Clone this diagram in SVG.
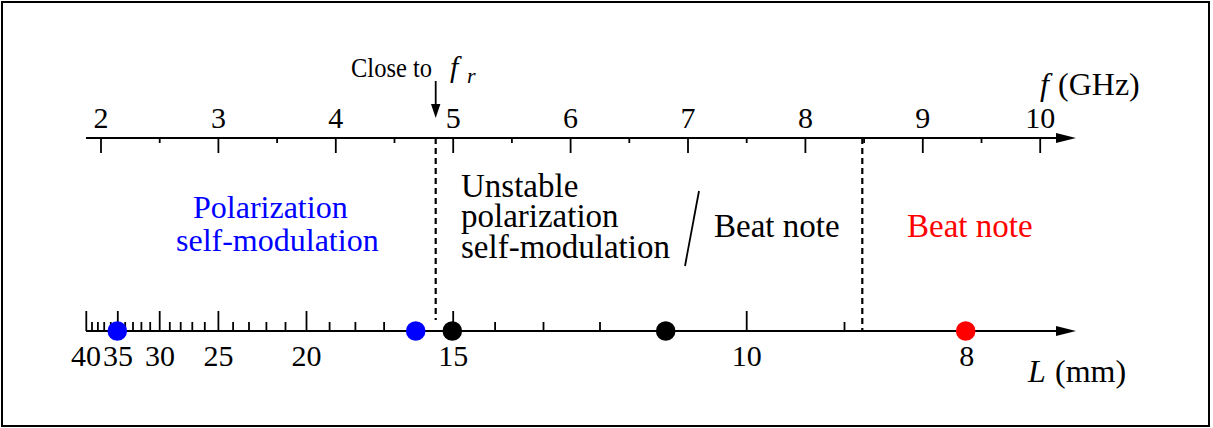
<svg xmlns="http://www.w3.org/2000/svg" width="1213" height="428" viewBox="0 0 1213 428">
<style>
.t{font-family:"Liberation Serif","Times New Roman",serif;fill:#000}
.num{font-size:30px;text-anchor:middle}
.lbl{font-size:33px}
.lbl2{font-size:32px}
.ax{stroke:#000;stroke-width:2;fill:none}
.tk{stroke:#000;stroke-width:1.8}
.dash{stroke:#000;stroke-width:2.2;stroke-dasharray:6 4;fill:none}
</style>
<rect x="0" y="0" width="1213" height="428" fill="#fff"/>
<rect id="border" x="2" y="2" width="1207" height="424" fill="none" stroke="#000" stroke-width="2"/>

<g id="top-axis">
<line class="ax" x1="86" y1="138" x2="1060" y2="138"/>
<polygon points="1076,138 1056,133 1056,143" fill="#000"/>
<g class="tk">
<line x1="101" y1="138" x2="101" y2="153"/>
<line x1="159.7" y1="138" x2="159.7" y2="143"/>
<line x1="218.4" y1="138" x2="218.4" y2="153"/>
<line x1="277.1" y1="138" x2="277.1" y2="143"/>
<line x1="335.8" y1="138" x2="335.8" y2="153"/>
<line x1="394.5" y1="138" x2="394.5" y2="143"/>
<line x1="453.2" y1="138" x2="453.2" y2="153"/>
<line x1="511.9" y1="138" x2="511.9" y2="143"/>
<line x1="570.6" y1="138" x2="570.6" y2="153"/>
<line x1="629.3" y1="138" x2="629.3" y2="143"/>
<line x1="688" y1="138" x2="688" y2="153"/>
<line x1="746.7" y1="138" x2="746.7" y2="143"/>
<line x1="805.4" y1="138" x2="805.4" y2="153"/>
<line x1="864.1" y1="138" x2="864.1" y2="143"/>
<line x1="922.8" y1="138" x2="922.8" y2="153"/>
<line x1="981.5" y1="138" x2="981.5" y2="143"/>
<line x1="1040.2" y1="138" x2="1040.2" y2="153"/>
</g>
<g class="t num">
<text x="101" y="128">2</text>
<text x="218.4" y="128">3</text>
<text x="335.8" y="128">4</text>
<text x="453.2" y="128">5</text>
<text x="570.6" y="128">6</text>
<text x="688" y="128">7</text>
<text x="805.4" y="128">8</text>
<text x="922.8" y="128">9</text>
<text x="1040.2" y="128">10</text>
</g>
<text class="t" font-size="32" y="95"><tspan x="1040" font-style="italic">f</tspan><tspan x="1058">(GHz)</tspan></text>
</g>

<g id="bottom-axis">
<line class="ax" x1="86" y1="331" x2="1060" y2="331"/>
<polygon points="1076,331 1056,326 1056,336" fill="#000"/>
<g class="tk">
<line x1="86.3" y1="331" x2="86.3" y2="311"/>
<line x1="92" y1="331" x2="92" y2="322"/>
<line x1="97.9" y1="331" x2="97.9" y2="322"/>
<line x1="104.2" y1="331" x2="104.2" y2="322"/>
<line x1="110.8" y1="331" x2="110.8" y2="322"/>
<line x1="117.8" y1="331" x2="117.8" y2="311"/>
<line x1="125.2" y1="331" x2="125.2" y2="322"/>
<line x1="133" y1="331" x2="133" y2="322"/>
<line x1="141.4" y1="331" x2="141.4" y2="322"/>
<line x1="150.2" y1="331" x2="150.2" y2="322"/>
<line x1="159.7" y1="331" x2="159.7" y2="311"/>
<line x1="169.8" y1="331" x2="169.8" y2="322"/>
<line x1="180.7" y1="331" x2="180.7" y2="322"/>
<line x1="192.3" y1="331" x2="192.3" y2="322"/>
<line x1="204.8" y1="331" x2="204.8" y2="322"/>
<line x1="218.4" y1="331" x2="218.4" y2="311"/>
<line x1="233.1" y1="331" x2="233.1" y2="322"/>
<line x1="249" y1="331" x2="249" y2="322"/>
<line x1="266.4" y1="331" x2="266.4" y2="322"/>
<line x1="285.5" y1="331" x2="285.5" y2="322"/>
<line x1="306.5" y1="331" x2="306.5" y2="311"/>
<line x1="329.6" y1="331" x2="329.6" y2="322"/>
<line x1="355.4" y1="331" x2="355.4" y2="322"/>
<line x1="384.1" y1="331" x2="384.1" y2="322"/>
<line x1="416.5" y1="331" x2="416.5" y2="322"/>
<line x1="453.2" y1="331" x2="453.2" y2="311"/>
<line x1="495.1" y1="331" x2="495.1" y2="322"/>
<line x1="543.5" y1="331" x2="543.5" y2="322"/>
<line x1="600" y1="331" x2="600" y2="322"/>
<line x1="666.7" y1="331" x2="666.7" y2="322"/>
<line x1="746.7" y1="331" x2="746.7" y2="311"/>
<line x1="844.5" y1="331" x2="844.5" y2="322"/>
<line x1="966.8" y1="331" x2="966.8" y2="322"/>
</g>
<g class="t num">
<text x="86" y="366">40</text>
<text x="118" y="366">35</text>
<text x="160" y="366">30</text>
<text x="218.4" y="366">25</text>
<text x="306.5" y="366">20</text>
<text x="453.2" y="366">15</text>
<text x="746.7" y="366">10</text>
<text x="966.8" y="366">8</text>
</g>
<text class="t" font-size="32" y="382"><tspan x="1028" font-style="italic">L</tspan><tspan x="1055">(mm)</tspan></text>
</g>

<g id="connectors">
<line class="dash" x1="435.7" y1="138" x2="435.7" y2="320"/>
<line class="dash" x1="862.3" y1="138" x2="862.3" y2="331"/>
<line x1="435.7" y1="81" x2="435.7" y2="106" stroke="#000" stroke-width="1.8"/>
<polygon points="431,104 440.4,104 435.7,118" fill="#000"/>
<line x1="699" y1="191" x2="685" y2="266" stroke="#000" stroke-width="1.8"/>
</g>

<g id="close-to-fr">
<text class="t" font-size="28" y="77"><tspan x="351" textLength="81" lengthAdjust="spacingAndGlyphs">Close to</tspan><tspan x="450" font-size="30" font-style="italic">f</tspan><tspan x="467" y="83" font-size="22" font-style="italic">r</tspan></text>
</g>

<g id="region-polarization">
<text class="t lbl2" style="fill:#0000ff" x="193" y="218">Polarization</text>
<text class="t lbl2" style="fill:#0000ff" x="176" y="251">self-modulation</text>
</g>
<g id="region-unstable">
<text class="t lbl" x="461" y="197">Unstable</text>
<text class="t lbl" x="461" y="227">polarization</text>
<text class="t lbl" x="461" y="258">self-modulation</text>
</g>
<g id="region-beat-black">
<text class="t lbl" x="714" y="237">Beat note</text>
</g>
<g id="region-beat-red">
<text class="t lbl" style="fill:#ff0000" x="907" y="237">Beat note</text>
</g>

<g id="points">
<circle cx="117.3" cy="331" r="9.8" fill="#0000ff"/>
<circle cx="415.7" cy="331" r="9.8" fill="#0000ff"/>
<circle cx="452.3" cy="331" r="9.8" fill="#000"/>
<circle cx="665.7" cy="331" r="9.8" fill="#000"/>
<circle cx="965.7" cy="331" r="9.8" fill="#ff0000"/>
</g>
</svg>
